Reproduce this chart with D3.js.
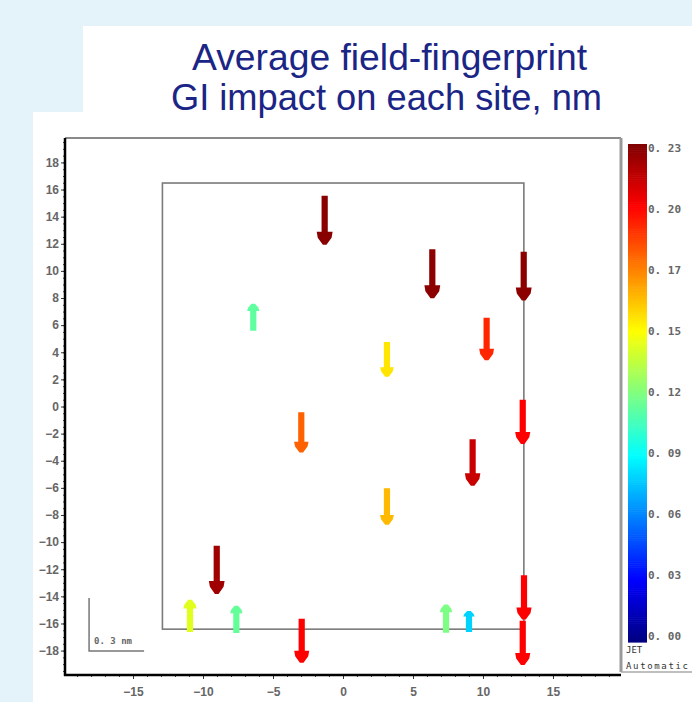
<!DOCTYPE html>
<html><head><meta charset="utf-8">
<script src="https://cdn.jsdelivr.net/npm/d3@7"></script>
<style>html,body{margin:0;padding:0;background:#e4f2fa;} svg{display:block}</style>
</head><body>
<svg id="chart" width="692" height="702"></svg>
<script>
// ---------- data ----------
const titleLines = ["Average field-fingerprint", "GI impact on each site, nm"];
// arrow tail positions (axis units) and vertical shift (nm, negative = downward)
const siteX  = [-1.31, 6.38, 12.91, -6.41, 3.14, 10.26, 12.84, -2.98, 9.26, 3.14, -9.02, -10.93, -7.62, 7.36, 9.00, 12.93, -2.95, 12.84];
const siteY  = [15.55, 11.59, 11.42, 5.59, 4.76, 6.55, 0.50, -0.43, -2.42, -6.03, -10.27, -16.63, -16.70, -16.68, -16.63, -12.45, -15.65, -15.80];
const shifts = [-0.230, -0.229, -0.229, 0.1085, -0.151, -0.194, -0.203, -0.181, -0.2155, -0.161, -0.2245, 0.138, 0.110, 0.115, 0.077, -0.203, -0.202, -0.203];
const xTicks = [-15, -10, -5, 0, 5, 10, 15];
const yTicks = [-18, -16, -14, -12, -10, -8, -6, -4, -2, 0, 2, 4, 6, 8, 10, 12, 14, 16, 18];
const colorTickLabels = ["0. 00", "0. 03", "0. 06", "0. 09", "0. 12", "0. 15", "0. 17", "0. 20", "0. 23"];
const colorMax = 0.232;
const jetStops = [0, 0.125, 0.375, 0.625, 0.875, 1];
const jetColors = ["#00007f", "#0000ff", "#00ffff", "#ffff00", "#ff0000", "#7f0000"];
const innerFrameX = [-12.9, 12.92];
const innerFrameY = [-16.42, 16.48];
const scaleBarNm = 0.3;
const scaleBarOrigin = [-18.14, -18.03];

// ---------- setup ----------
const svg = d3.select("#chart");
svg.append("rect").attr("x", 83).attr("y", 26).attr("width", 609).attr("height", 90).attr("fill", "#fff");
svg.append("rect").attr("x", 33).attr("y", 112).attr("width", 659).attr("height", 590).attr("fill", "#fff");

// title
const title = svg.append("g").attr("fill", "#1b2585")
  .style("font-family", "'Liberation Sans', Arial, sans-serif").style("font-size", "36px");
title.append("text").attr("x", 192).attr("y", 70).attr("textLength", 395)
  .attr("lengthAdjust", "spacingAndGlyphs").text(titleLines[0]);
title.append("text").attr("x", 171).attr("y", 110).attr("textLength", 431)
  .attr("lengthAdjust", "spacingAndGlyphs").text(titleLines[1]);

// scales
const x = d3.scaleLinear().domain([-19.86, 19.86]).range([65, 621]);
const y = d3.scaleLinear().domain([-19.8, 19.8]).range([675, 138]);
const nm = d3.scaleLinear().domain([0, scaleBarNm]).range([0, 55]);
const color = d3.scaleLinear().domain(jetStops.map(s => s * colorMax)).range(jetColors).clamp(true);

// axes
const axFont = "'Liberation Sans', Arial, sans-serif";
const xMinor = d3.range(-19, 20, 1);
const yMinor = d3.range(-19.5, 19.6, 0.5);
svg.append("g").attr("transform", "translate(0,675)")
  .call(d3.axisBottom(x).tickValues(xMinor).tickSize(2).tickFormat(""))
  .call(g => g.select(".domain").remove())
  .call(g => g.selectAll("line").attr("stroke", "#444"));
const xa = svg.append("g").attr("transform", "translate(0,675)")
  .call(d3.axisBottom(x).tickValues(xTicks).tickSize(4).tickPadding(8).tickFormat(d3.format("d")));
xa.select(".domain").remove();
xa.selectAll("line").attr("stroke", "#333");
xa.selectAll("text").attr("fill", "#666").style("font-family", axFont).style("font-size", "12px").style("font-weight", "bold");

svg.append("g").attr("transform", "translate(65,0)")
  .call(d3.axisLeft(y).tickValues(yMinor).tickSize(2).tickFormat(""))
  .call(g => g.select(".domain").remove())
  .call(g => g.selectAll("line").attr("stroke", "#444"));
const ya = svg.append("g").attr("transform", "translate(65,0)")
  .call(d3.axisLeft(y).tickValues(yTicks).tickSize(4).tickPadding(2).tickFormat(d3.format("d")));
ya.select(".domain").remove();
ya.selectAll("line").attr("stroke", "#333");
ya.selectAll("text").attr("fill", "#666").style("font-family", axFont).style("font-size", "12px").style("font-weight", "bold");

// outer frame
svg.append("line").attr("x1", x.range()[0]).attr("x2", x.range()[1]).attr("y1", y.range()[1]).attr("y2", y.range()[1])
  .attr("stroke", "#8a8a8a").attr("stroke-width", 2);
svg.append("line").attr("x1", x.range()[1]).attr("x2", x.range()[1]).attr("y1", y.range()[1]).attr("y2", 672)
  .attr("stroke", "#999").attr("stroke-width", 3);
svg.append("line").attr("x1", x.range()[1]).attr("x2", 692).attr("y1", 672).attr("y2", 672)
  .attr("stroke", "#aaa").attr("stroke-width", 1.5);
svg.append("line").attr("x1", x.range()[0]).attr("x2", x.range()[0]).attr("y1", y.range()[1]).attr("y2", y.range()[0] + 1)
  .attr("stroke", "#000").attr("stroke-width", 2.5);
svg.append("line").attr("x1", x.range()[0] - 1).attr("x2", x.range()[1]).attr("y1", y.range()[0]).attr("y2", y.range()[0])
  .attr("stroke", "#000").attr("stroke-width", 2.5);

// inner rectangle
svg.append("rect")
  .attr("x", x(innerFrameX[0])).attr("y", y(innerFrameY[1]))
  .attr("width", x(innerFrameX[1]) - x(innerFrameX[0]))
  .attr("height", y(innerFrameY[0]) - y(innerFrameY[1]))
  .attr("fill", "none").attr("stroke", "#7a7a7a").attr("stroke-width", 1.6);

// scale bar
const sbx = x(scaleBarOrigin[0]), sby = y(scaleBarOrigin[1]);
svg.append("path")
  .attr("d", `M${sbx},${sby - nm(scaleBarNm) + 2}V${sby}H${sbx + nm(scaleBarNm)}`)
  .attr("fill", "none").attr("stroke", "#777").attr("stroke-width", 1.5);
svg.append("text").attr("x", sbx + 5).attr("y", sby - 7)
  .attr("fill", "#666").style("font-family", "'DejaVu Sans Mono', monospace").style("font-size", "9px")
  .style("font-weight", "bold").text("0. 3 nm");

// arrows
const defs = svg.append("defs");
defs.append("filter").attr("id", "soft").append("feGaussianBlur").attr("stdDeviation", 0.45);
const arrows = siteX.map((sx, i) => ({x: sx, y: siteY[i], s: shifts[i]}));
svg.append("g").attr("filter", "url(#soft)")
  .selectAll("path").data(arrows).join("path")
  .attr("fill", d => color(Math.abs(d.s)))
  .attr("d", d => {
    const L = nm(Math.abs(d.s)) + 7;
    const dir = d.s < 0 ? 1 : -1;
    const hw = Math.min(16, 8 + L * 0.16) / 2;
    const hl = Math.min(13, L * 0.27);
    const sw = 3.1;
    const px = x(d.x), py = y(d.y);
    const pts = [
      [-sw, 0], [sw, 0], [sw, L - hl], [hw, L - hl], [hw - 1, L - hl * 0.55], [1.8, L],
      [-1.8, L], [-hw + 1, L - hl * 0.55], [-hw, L - hl], [-sw, L - hl]
    ];
    return "M" + pts.map(p => [px + p[0], py + dir * p[1]].join(",")).join("L") + "Z";
  });

// color bar
const cbX = 628, cbW = 19;
const cy = d3.scaleLinear().domain([0, colorMax]).range([642, 144]);
const nSteps = 240;
svg.append("g").selectAll("rect").data(d3.range(nSteps)).join("rect")
  .attr("x", cbX).attr("width", cbW)
  .attr("y", i => cy((i + 1) * colorMax / nSteps))
  .attr("height", i => cy(i * colorMax / nSteps) - cy((i + 1) * colorMax / nSteps) + 0.6)
  .attr("fill", i => color((i + 0.5) * colorMax / nSteps));
const labelY = d3.scaleLinear().domain([0, colorTickLabels.length - 1]).range([636, 148]);
svg.append("g").selectAll("text").data(colorTickLabels).join("text")
  .attr("x", 648).attr("y", (d, i) => labelY(i)).attr("dy", "0.35em")
  .attr("fill", "#666").style("font-family", "'DejaVu Sans Mono', monospace").style("font-size", "11px")
  .style("font-weight", "bold").text(d => d);
svg.append("text").attr("x", 626).attr("y", 653).attr("fill", "#333")
  .style("font-family", "'DejaVu Sans Mono', monospace").style("font-size", "9px").text("JET");
svg.append("text").attr("x", 626).attr("y", 669).attr("fill", "#333")
  .style("font-family", "'DejaVu Sans Mono', monospace").style("font-size", "9px")
  .attr("textLength", 62).attr("lengthAdjust", "spacing").text("Automatic");
</script>
</body></html>
